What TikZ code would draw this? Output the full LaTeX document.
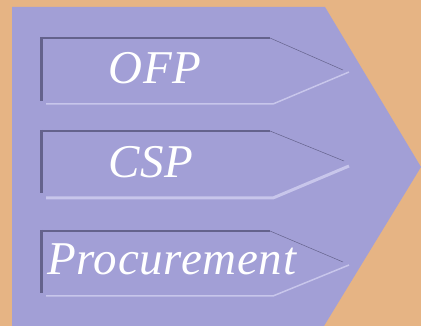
\documentclass[tikz,border=0pt]{standalone}
\usepackage{fontspec}
\newfontfamily\timesit{Liberation Serif Italic}[LetterSpace=1.5]
\definecolor{bgc}{RGB}{230,180,132}
\definecolor{pentc}{RGB}{162,159,214}
\definecolor{darkc}{RGB}{100,98,140}
\definecolor{lightc}{RGB}{200,198,235}
\tikzset{
  darkedge/.style={draw=darkc, line width=2pt},
  darkside/.style={draw=darkc, line width=3.5pt},
  darkslant/.style={draw=darkc, line width=0.5pt},
  lightedge/.style={draw=lightc, line width=1.5pt},
  label/.style={text=white, font=\timesit\fontsize{47}{47}\selectfont, anchor=base, inner sep=0pt}
}
\begin{document}
\begin{tikzpicture}[x=1pt,y=-1pt]
\useasboundingbox (0,0) rectangle (421,326);
\fill[bgc] (0,0) rectangle (421,326);
\fill[pentc] (12,7) -- (325,7) -- (421,167) -- (324,326) -- (12,326) -- cycle;
% tab 1
\draw[darkedge] (40,38) -- (270,38);
\draw[darkslant] (270,38) -- (343,70);
\draw[darkside] (41.5,37) -- (41.5,101);
\draw[lightedge] (46,104) -- (273,104) -- (349,72);
% tab 2
\draw[darkedge] (40,131) -- (270,131);
\draw[darkslant] (270,131) -- (344,161);
\draw[darkside] (41.5,130) -- (41.5,193);
\draw[lightedge, line width=3pt] (46,198) -- (273,198) -- (349,166);
% tab 3
\draw[darkedge] (40,231) -- (270,231);
\draw[darkslant] (270,231) -- (343,262);
\draw[darkside] (41.5,230) -- (41.5,293);
\draw[lightedge] (46,296) -- (273,296) -- (349,265);
\node[label] (ofp) at (155,84) {OFP};
\node[label] (csp) at (151,178) {CSP};
\node[label, anchor=base west] (proc) at (47,275) {Procurement};
\end{tikzpicture}
\end{document}
